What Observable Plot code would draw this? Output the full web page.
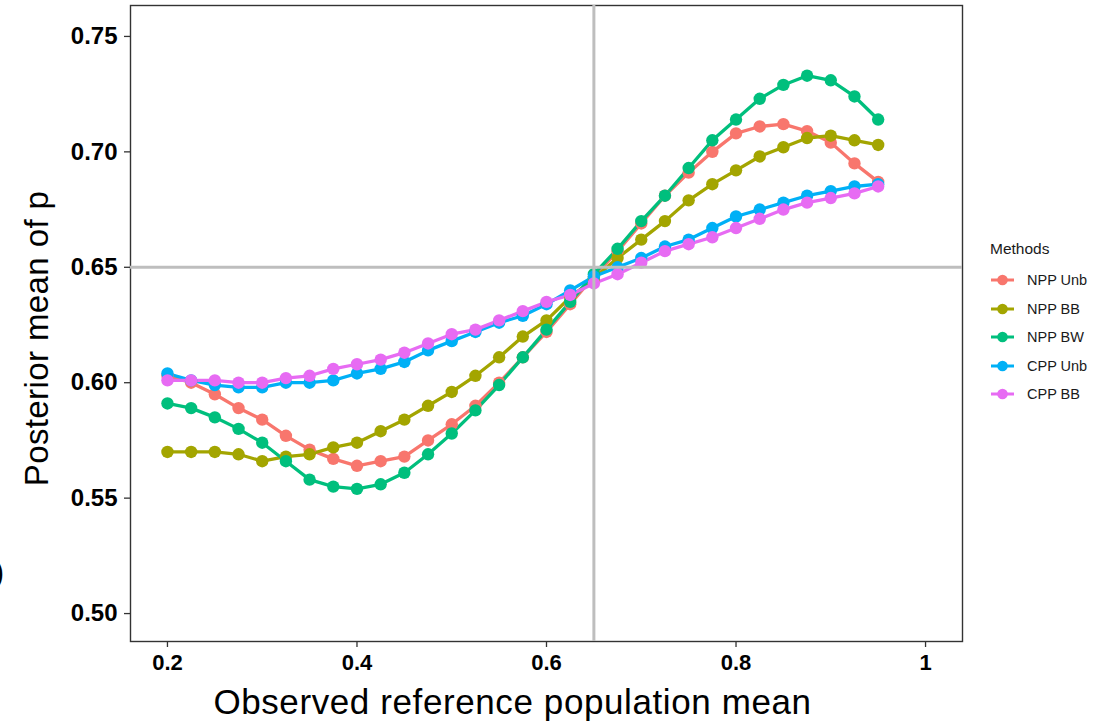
<!DOCTYPE html>
<html><head><meta charset="utf-8">
<script src="https://cdn.jsdelivr.net/npm/d3@7"></script>
<script src="https://cdn.jsdelivr.net/npm/@observablehq/plot@0.6"></script>
<style>
body{margin:0;background:#fff;}
#wrap{position:relative;width:1109px;height:722px;overflow:hidden;}
#legend{position:absolute;left:990px;top:240px;font-family:"Liberation Sans",Arial,sans-serif;color:#1a1a1a;}
#legend .title{font-size:15.5px;margin-bottom:8px;}
#legend .row{display:flex;align-items:center;height:28.5px;font-size:14.5px;}
#legend .row svg{margin-right:12px;}
#edge{position:absolute;left:-7px;top:552px;font-family:"Liberation Sans",Arial,sans-serif;font-size:34px;color:#000;}
#chart svg g[aria-label="y-axis tick label"] text{font-family:"Liberation Sans",Arial,sans-serif;font-weight:bold;font-size:24px;fill:#000;}
#chart svg g[aria-label="x-axis tick label"] text{font-family:"Liberation Sans",Arial,sans-serif;font-weight:bold;font-size:22px;fill:#000;}
#chart svg g[aria-label="x-axis label"] text{font-family:"Liberation Sans",Arial,sans-serif;font-size:35px;letter-spacing:0.6px;fill:#000;}
#chart svg g[aria-label="y-axis label"] text{font-family:"Liberation Sans",Arial,sans-serif;font-size:33px;letter-spacing:0.4px;fill:#000;}
</style></head><body>
<div id="wrap"><div id="chart"></div><div id="legend"></div><div id="edge">)</div></div>
<script>
const xs = [0.2,0.225,0.25,0.275,0.3,0.325,0.35,0.375,0.4,0.425,0.45,0.475,0.5,0.525,0.55,0.575,0.6,0.625,0.65,0.675,0.7,0.725,0.75,0.775,0.8,0.825,0.85,0.875,0.9,0.925,0.95];
const methods = ["NPP Unb","NPP BB","NPP BW","CPP Unb","CPP BB"];
const colors = ["#F8766D","#A3A500","#00BF7D","#00B0F6","#E76BF3"];
const nppUnb = [0.603,0.600,0.595,0.589,0.584,0.577,0.571,0.567,0.564,0.566,0.568,0.575,0.582,0.590,0.600,0.611,0.622,0.634,0.646,0.657,0.669,0.681,0.691,0.700,0.708,0.711,0.712,0.709,0.704,0.695,0.687];
const nppBB  = [0.570,0.570,0.570,0.569,0.566,0.568,0.569,0.572,0.574,0.579,0.584,0.590,0.596,0.603,0.611,0.620,0.627,0.637,0.645,0.654,0.662,0.670,0.679,0.686,0.692,0.698,0.702,0.706,0.707,0.705,0.703];
const nppBW  = [0.591,0.589,0.585,0.580,0.574,0.566,0.558,0.555,0.554,0.556,0.561,0.569,0.578,0.588,0.599,0.611,0.623,0.635,0.647,0.658,0.670,0.681,0.693,0.705,0.714,0.723,0.729,0.733,0.731,0.724,0.714];
const cppUnb = [0.604,0.601,0.599,0.598,0.598,0.600,0.600,0.601,0.604,0.606,0.609,0.614,0.618,0.622,0.626,0.629,0.634,0.640,0.646,0.650,0.654,0.659,0.662,0.667,0.672,0.675,0.678,0.681,0.683,0.685,0.686];
const cppBB  = [0.601,0.601,0.601,0.600,0.600,0.602,0.603,0.606,0.608,0.610,0.613,0.617,0.621,0.623,0.627,0.631,0.635,0.638,0.643,0.647,0.652,0.657,0.660,0.663,0.667,0.671,0.675,0.678,0.680,0.682,0.685];
const xTicks = [0.2,0.4,0.6,0.8,1];
const yTicks = [0.50,0.55,0.60,0.65,0.70,0.75];
const refX = 0.65, refY = 0.65;

const series = [nppUnb,nppBB,nppBW,cppUnb,cppBB];
const data = [];
series.forEach((s,i)=>s.forEach((v,j)=>data.push({method:methods[i],x:xs[j],y:v})));

const chart = Plot.plot({
  width:1109, height:722,
  marginLeft:130, marginRight:147, marginTop:5, marginBottom:81,
  style:{background:"#fff",overflow:"visible"},
  x:{domain:[0.161,1.039]},
  y:{domain:[0.4879,0.7634]},
  color:{domain:methods, range:colors},
  marks:[
    Plot.frame({stroke:"#333",strokeWidth:1.4}),
    Plot.lineY(data,{x:"x",y:"y",z:"method",stroke:"method",strokeWidth:3.3}),
    Plot.dot(data,{x:"x",y:"y",fill:"method",r:6.2}),
    Plot.ruleX([refX],{stroke:"#bebebe",strokeWidth:3}),
    Plot.ruleY([refY],{stroke:"#bebebe",strokeWidth:3}),
    Plot.axisX({ticks:xTicks,tickSize:6,tickPadding:7,stroke:"#333",strokeWidth:1.3,
      tickFormat:d=>d===1?"1":d.toFixed(1),
      label:"Observed reference population mean",labelAnchor:"center",labelArrow:"none",labelOffset:70}),
    Plot.axisY({ticks:yTicks,tickSize:6,tickPadding:7,stroke:"#333",strokeWidth:1.3,
      tickFormat:d=>d.toFixed(2),
      label:"Posterior mean of p",labelAnchor:"center",labelArrow:"none",labelOffset:106})
  ]
});
document.getElementById("chart").appendChild(chart);
const shift = (sel, dx, dy) => {
  const g = d3.select(chart).select(sel);
  if (!g.empty()) g.attr("transform", ((g.attr("transform")||"") + ` translate(${dx},${dy})`).trim());
};
shift('g[aria-label="x-axis label"]', -34, 2);
shift('g[aria-label="y-axis label"]', 0, 15);

const leg = document.getElementById("legend");
const t = document.createElement("div"); t.className="title"; t.textContent="Methods"; leg.appendChild(t);
methods.forEach((m,i)=>{
  const r=document.createElement("div"); r.className="row";
  r.innerHTML=`<svg width="25" height="14"><line x1="1" x2="24" y1="7" y2="7" stroke="${colors[i]}" stroke-width="3"/><circle cx="12.5" cy="7" r="5.3" fill="${colors[i]}"/></svg><span>${m}</span>`;
  leg.appendChild(r);
});
</script>
</body></html>
